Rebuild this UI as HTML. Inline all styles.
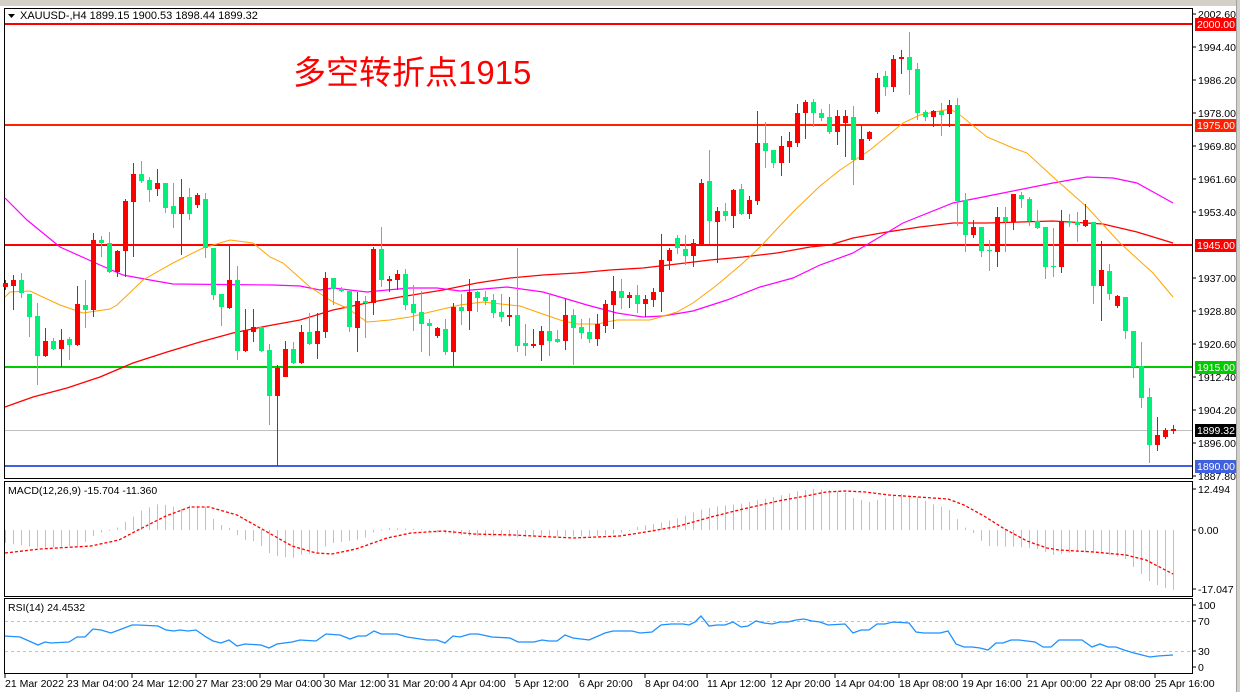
<!DOCTYPE html>
<html><head><meta charset="utf-8">
<style>
html,body{margin:0;padding:0;background:#fff;width:1240px;height:692px;overflow:hidden}
svg{display:block}
text{font-family:"Liberation Sans","DejaVu Sans",sans-serif}
</style></head>
<body>
<svg id="s" width="1240" height="692" xmlns="http://www.w3.org/2000/svg">
<rect x="0" y="0" width="1240" height="692" fill="#fff"/>
<rect x="0" y="0" width="1240" height="6" fill="#d4d0c8"/>
<rect x="1237" y="0" width="3" height="692" fill="#d4d0c8"/>
<line x1="1236.5" y1="0" x2="1236.5" y2="692" stroke="#a0a0a0"/>
<!-- frames -->
<rect x="4.5" y="8.5" width="1188" height="470" fill="none" stroke="#000"/>
<rect x="4.5" y="481.5" width="1188" height="115" fill="none" stroke="#000"/>
<rect x="4.5" y="598.5" width="1188" height="75" fill="none" stroke="#000"/>
<g id="g"></g>
<!-- header -->
<polygon points="8,14 15,14 11.5,18" fill="#000"/>
<text x="20" y="19" font-size="11" fill="#000">XAUUSD-,H4  1899.15 1900.53 1898.44 1899.32</text>
<text x="293" y="84" font-size="33" fill="#ff0000" font-family="'Liberation Sans','Noto Sans CJK SC',sans-serif">多空转折点1915</text>
<text x="8" y="494" font-size="10.5" fill="#000">MACD(12,26,9) -15.704 -11.360</text>
<text x="8" y="611" font-size="10.5" fill="#000">RSI(14) 24.4532</text>
</svg>
<script>
var NS="http://www.w3.org/2000/svg",g=document.getElementById('g');
function el(t,a,txt){var e=document.createElementNS(NS,t);for(var k in a)e.setAttribute(k,a[k]);if(txt!=null)e.textContent=txt;g.appendChild(e);return e;}
// horizontal lines
el('line',{x1:5,y1:430.5,x2:1192,y2:430.5,stroke:'#c0c0c0'});
el('line',{x1:5,y1:24,x2:1192,y2:24,stroke:'#ff0000','stroke-width':2});
el('line',{x1:5,y1:125,x2:1192,y2:125,stroke:'#ff2200','stroke-width':2});
el('line',{x1:5,y1:245,x2:1192,y2:245,stroke:'#ff0000','stroke-width':2});
el('line',{x1:5,y1:367,x2:1192,y2:367,stroke:'#00cc00','stroke-width':2});
el('line',{x1:5,y1:466,x2:1192,y2:466,stroke:'#4060e0','stroke-width':2});
function pl(pts,col,w,dash){var a={points:pts.map(function(p){return p.join(',')}).join(' '),fill:'none',stroke:col,'stroke-width':w||1};if(dash)a['stroke-dasharray']=dash;el('polyline',a);}
// MAs
pl([[5,407],[33,397],[67,388],[100,377],[133,363],[167,352],[200,342],[233,333],[267,326],[300,320],[333,310],[367,303],[400,297],[443,290],[477,283],[510,278],[543,275],[577,273],[610,270],[643,268],[677,264],[710,260],[743,257],[777,253],[810,247],[830,245],[853,238],[887,232],[920,227],[953,223],[987,223],[1053,221],[1103,224],[1137,232],[1173,243]],'#ff0000',1.3);
pl([[5,198],[27,220],[60,247],[100,265],[123,275],[150,280],[173,284],[273,285],[300,286],[320,290],[333,288],[367,292],[387,290],[410,288],[437,288],[460,291],[507,287],[543,292],[560,297],[587,305],[617,313],[643,317],[663,316],[693,311],[727,300],[760,287],[793,278],[820,265],[853,253],[903,223],[953,203],[1003,193],[1053,183],[1087,177],[1113,178],[1137,183],[1173,203]],'#ff00ff',1.2);
pl([[5,297],[10,292],[30,291],[60,305],[83,313],[110,309],[117,305],[143,280],[173,263],[203,248],[230,240],[253,243],[270,257],[283,263],[310,287],[333,302],[347,308],[367,322],[390,320],[410,317],[430,312],[460,305],[483,302],[510,305],[520,306],[537,312],[560,320],[577,324],[597,324],[617,320],[650,320],[657,318],[677,312],[693,303],[717,285],[743,263],[760,247],[793,212],[820,186],[840,170],[870,150],[903,123],[920,115],[950,109],[960,115],[987,137],[1013,148],[1027,153],[1053,177],[1087,207],[1120,243],[1153,273],[1173,297]],'#ffa500',1);
// candles [bodyTop,bodyBot,hi,lo,color]
var C=[[283,287,280,290,'r'],[280,286,275,310,'r'],[280,293,273,298,'g'],[294,317,294,337,'g'],[316,356,303,385,'g'],[341,356,328,357,'r'],[341,349,338,350,'g'],[340,349,329,367,'r'],[339,345,337,360,'g'],[304,345,286,346,'r'],
[305,310,280,328,'g'],[240,310,233,317,'r'],[240,243,236,257,'g'],[243,272,232,273,'g'],[251,272,250,277,'r'],[201,251,199,277,'r'],[174,202,163,257,'r'],[174,181,161,183,'g'],[180,190,177,202,'g'],[183,189,169,196,'r'],
[183,208,183,213,'g'],[206,214,183,228,'g'],[197,214,179,255,'r'],[197,214,188,220,'g'],[195,205,193,208,'r'],[199,248,193,258,'g'],[248,295,248,300,'g'],[294,307,294,326,'g'],[280,308,244,309,'r'],[280,351,266,360,'g'],
[330,351,309,352,'r'],[327,332,309,342,'r'],[327,351,326,352,'g'],[350,396,344,425,'g'],[368,396,365,466,'r'],[349,377,341,377,'r'],[349,363,342,364,'g'],[332,363,325,364,'r'],[332,344,313,345,'g'],[331,344,313,359,'r'],
[278,332,272,338,'r'],[278,289,278,305,'g'],[289,291,287,292,'g'],[291,327,289,332,'g'],[301,328,292,352,'r'],[301,303,296,338,'g'],[249,303,247,315,'r'],[249,280,227,287,'g'],[279,281,276,292,'r'],[274,280,270,290,'r'],
[274,305,269,310,'g'],[304,313,285,331,'g'],[312,324,291,352,'g'],[323,326,319,356,'g'],[328,336,327,338,'r'],[329,352,319,355,'g'],[307,352,303,366,'r'],[307,311,294,325,'g'],[292,311,279,330,'r'],[292,298,291,312,'g'],
[297,301,291,305,'g'],[300,313,294,318,'g'],[312,317,294,322,'g'],[315,317,297,326,'r'],[315,346,248,352,'g'],[343,346,324,356,'g'],[344,346,329,348,'r'],[331,345,326,361,'r'],[331,341,293,356,'g'],[339,342,330,343,'g'],
[315,341,299,350,'r'],[315,328,309,365,'g'],[327,333,319,339,'g'],[332,339,318,343,'g'],[324,339,314,346,'r'],[304,326,300,333,'r'],[291,305,276,329,'r'],[291,298,279,309,'g'],[295,298,292,308,'r'],[295,304,285,313,'g'],
[299,304,295,317,'r'],[292,300,288,307,'r'],[260,292,234,312,'r'],[250,261,248,270,'r'],[238,248,235,254,'g'],[249,256,235,265,'g'],[243,256,239,267,'r'],[183,244,179,246,'r'],[181,221,150,244,'g'],[211,222,207,263,'r'],
[211,216,203,221,'g'],[190,216,189,228,'r'],[189,214,184,215,'g'],[200,214,196,219,'r'],[143,201,111,205,'r'],[143,151,122,168,'g'],[150,163,150,168,'g'],[146,163,136,176,'r'],[141,147,132,163,'r'],[113,143,104,147,'r'],
[102,113,100,139,'r'],[102,113,99,127,'g'],[113,118,109,121,'g'],[117,132,104,134,'g'],[116,132,110,145,'r'],[116,123,110,157,'r'],[117,160,106,185,'g'],[139,160,125,160,'r'],[132,139,131,141,'r'],[78,112,73,114,'r'],
[76,87,71,96,'g'],[59,87,55,92,'r'],[57,59,50,74,'r'],[57,70,32,95,'g'],[69,113,63,120,'g'],[112,117,110,121,'g'],[111,117,110,127,'r'],[111,115,103,136,'g'],[105,114,100,127,'r'],[105,201,98,226,'g'],
[200,235,193,252,'g'],[227,235,220,238,'r'],[227,251,227,257,'g'],[250,251,240,271,'g'],[217,252,207,267,'r'],[217,222,207,252,'g'],[194,222,194,230,'r'],[195,199,192,208,'g'],[199,221,197,226,'g'],[221,228,210,229,'g'],
[227,267,227,279,'g'],[266,267,228,277,'g'],[222,267,210,273,'r'],[222,223,214,227,'g'],[222,225,212,242,'g'],[220,226,204,227,'r'],[222,286,222,304,'g'],[270,286,241,321,'r'],[271,294,264,300,'g'],[296,306,295,308,'r'],
[297,331,297,339,'g'],[331,367,331,378,'g'],[366,398,342,408,'g'],[397,445,388,463,'g'],[435,445,417,451,'r'],[430,437,428,439,'r'],[429,431,425,434,'r']];
for(var i=0;i<C.length;i++){var c=C[i],x=5+8*i,col=c[4]=='r'?'#ff0000':'#00f07a';
 el('rect',{x:x,y:c[2],width:1,height:Math.max(1,c[3]-c[2]),fill:col});
 el('rect',{x:x-2,y:c[0],width:5,height:Math.max(1,c[1]-c[0]),fill:col});}
// MACD histogram
function interp(P,x){if(x<=P[0][0])return P[0][1];for(var k=1;k<P.length;k++){if(x<=P[k][0]){var a=P[k-1],b=P[k];return a[1]+(b[1]-a[1])*(x-a[0])/(b[0]-a[0]);}}return P[P.length-1][1];}
var H=[[5,543],[40,548],[80,546],[91,537],[105,531],[119,527],[126,521],[134,516],[142,510],[150,507],[158,504],[166,505],[174,507],[182,509],[190,505],[198,506],[205,507],[213,519],[221,525],[229,528],[237,535],[245,540],[253,541],[261,546],[269,553],[277,556],[292,558],[300,555],[316,553],[324,547],[332,543],[356,540],[364,538],[372,533],[385,528],[420,529],[440,533],[470,536],[520,537],[600,536],[620,533],[640,526],[660,523],[679,518],[699,510],[719,506],[739,504],[758,500],[778,496],[798,491],[814,489],[829,490],[845,493],[853,498],[869,502],[885,498],[901,494],[916,497],[932,504],[948,509],[956,518],[964,527],[972,532],[980,540],[988,546],[1019,547],[1037,549],[1053,555],[1075,552],[1100,553],[1108,555],[1124,558],[1132,566],[1140,573],[1149,581],[1157,585],[1165,588],[1173,590]];
for(var i=0;i<C.length;i++){var x=5+8*i,y=interp(H,x);var t=Math.min(530,y),b=Math.max(530,y);el('rect',{x:x,y:t,width:1,height:Math.max(1,b-t),fill:'#c0c0c0'});}
pl([[5,553],[40,549],[91,546],[119,540],[138,530],[166,516],[190,507],[209,507],[237,515],[269,533],[292,546],[316,553],[332,554],[356,549],[387,538],[411,533],[443,531],[474,534],[514,535],[553,537],[573,538],[620,536],[652,531],[679,526],[711,517],[739,510],[778,501],[806,496],[826,492],[845,491],[865,492],[889,495],[948,499],[964,505],[984,516],[1003,528],[1027,541],[1047,548],[1059,550],[1094,552],[1126,555],[1146,560],[1173,574]],'#ff0000',1.3,'3,2');
// RSI
el('line',{x1:5,y1:621.5,x2:1192,y2:621.5,stroke:'#c0c0c0','stroke-dasharray':'3,3'});
el('line',{x1:5,y1:651.5,x2:1192,y2:651.5,stroke:'#c0c0c0','stroke-dasharray':'3,3'});
pl([[5,636],[20,637],[38,645],[45,642],[51,643],[69,642],[77,637],[85,637],[93,629],[101,630],[111,633],[119,630],[132,625],[138,625],[158,626],[166,630],[174,631],[180,630],[188,631],[196,630],[206,637],[213,641],[221,643],[229,640],[237,646],[245,644],[261,645],[269,648],[277,644],[292,642],[300,640],[316,641],[326,634],[340,635],[350,639],[358,636],[366,636],[374,631],[381,634],[397,634],[407,637],[427,640],[437,640],[445,643],[453,636],[460,637],[470,634],[478,634],[492,637],[510,638],[518,642],[534,642],[542,640],[549,641],[557,641],[565,635],[573,638],[589,640],[605,633],[613,631],[632,631],[640,633],[652,632],[661,625],[671,624],[683,624],[689,625],[695,622],[701,616],[709,626],[717,625],[725,625],[733,622],[741,627],[748,626],[756,621],[764,623],[772,624],[780,622],[788,622],[796,620],[804,619],[812,621],[820,622],[828,625],[845,624],[853,633],[861,630],[869,630],[877,624],[885,624],[893,622],[909,623],[916,632],[924,633],[940,633],[948,631],[956,644],[964,647],[972,647],[980,648],[988,650],[996,643],[1003,643],[1011,640],[1019,640],[1027,641],[1035,642],[1043,647],[1051,647],[1059,640],[1082,640],[1092,647],[1100,644],[1108,647],[1116,647],[1124,650],[1134,653],[1142,655],[1150,657],[1158,656],[1173,655]],'#1e90ff',1.3);
// right axis
var L=[['2002.60',14],['1994.40',47],['1986.20',80],['1978.00',113],['1969.80',146],['1961.60',179],['1953.40',212],['1937.00',278],['1928.80',311],['1920.60',344],['1912.40',377],['1904.20',410],['1896.00',443],['1887.80',476],
['12.494',489],['0.00',530],['-17.047',589],['100',605],['70',621],['30',651],['0',667]];
L.forEach(function(l){el('line',{x1:1192,y1:l[1],x2:1196,y2:l[1],stroke:'#000'});el('text',{x:1198,y:l[1]+4,'font-size':'10.5',fill:'#000'},l[0]);});
var B=[['2000.00',24,'#ff0000'],['1975.00',125,'#ff2200'],['1945.00',245,'#ff0000'],['1915.00',367,'#00cc00'],['1899.32',430,'#000'],['1890.00',466,'#4060e0']];
B.forEach(function(b){el('rect',{x:1195,y:b[1]-6,width:41,height:13,fill:b[2]});el('text',{x:1197,y:b[1]+4,'font-size':'10.5',fill:'#fff'},b[0]);});
// time axis
var T=[['21 Mar 2022',5],['23 Mar 04:00',67],['24 Mar 12:00',132],['27 Mar 23:00',196],['29 Mar 04:00',260],['30 Mar 12:00',324],['31 Mar 20:00',388],['4 Apr 04:00',452],['5 Apr 12:00',515],['6 Apr 20:00',579],['8 Apr 04:00',645],['11 Apr 12:00',707],['12 Apr 20:00',771],['14 Apr 04:00',835],['18 Apr 08:00',899],['19 Apr 16:00',962],['21 Apr 00:00',1027],['22 Apr 08:00',1091],['25 Apr 16:00',1155]];
T.forEach(function(t){el('line',{x1:t[1],y1:674,x2:t[1],y2:678,stroke:'#000'});el('text',{x:t[1],y:687,'font-size':'10.5',fill:'#000'},t[0]);});
</script>
</body></html>
